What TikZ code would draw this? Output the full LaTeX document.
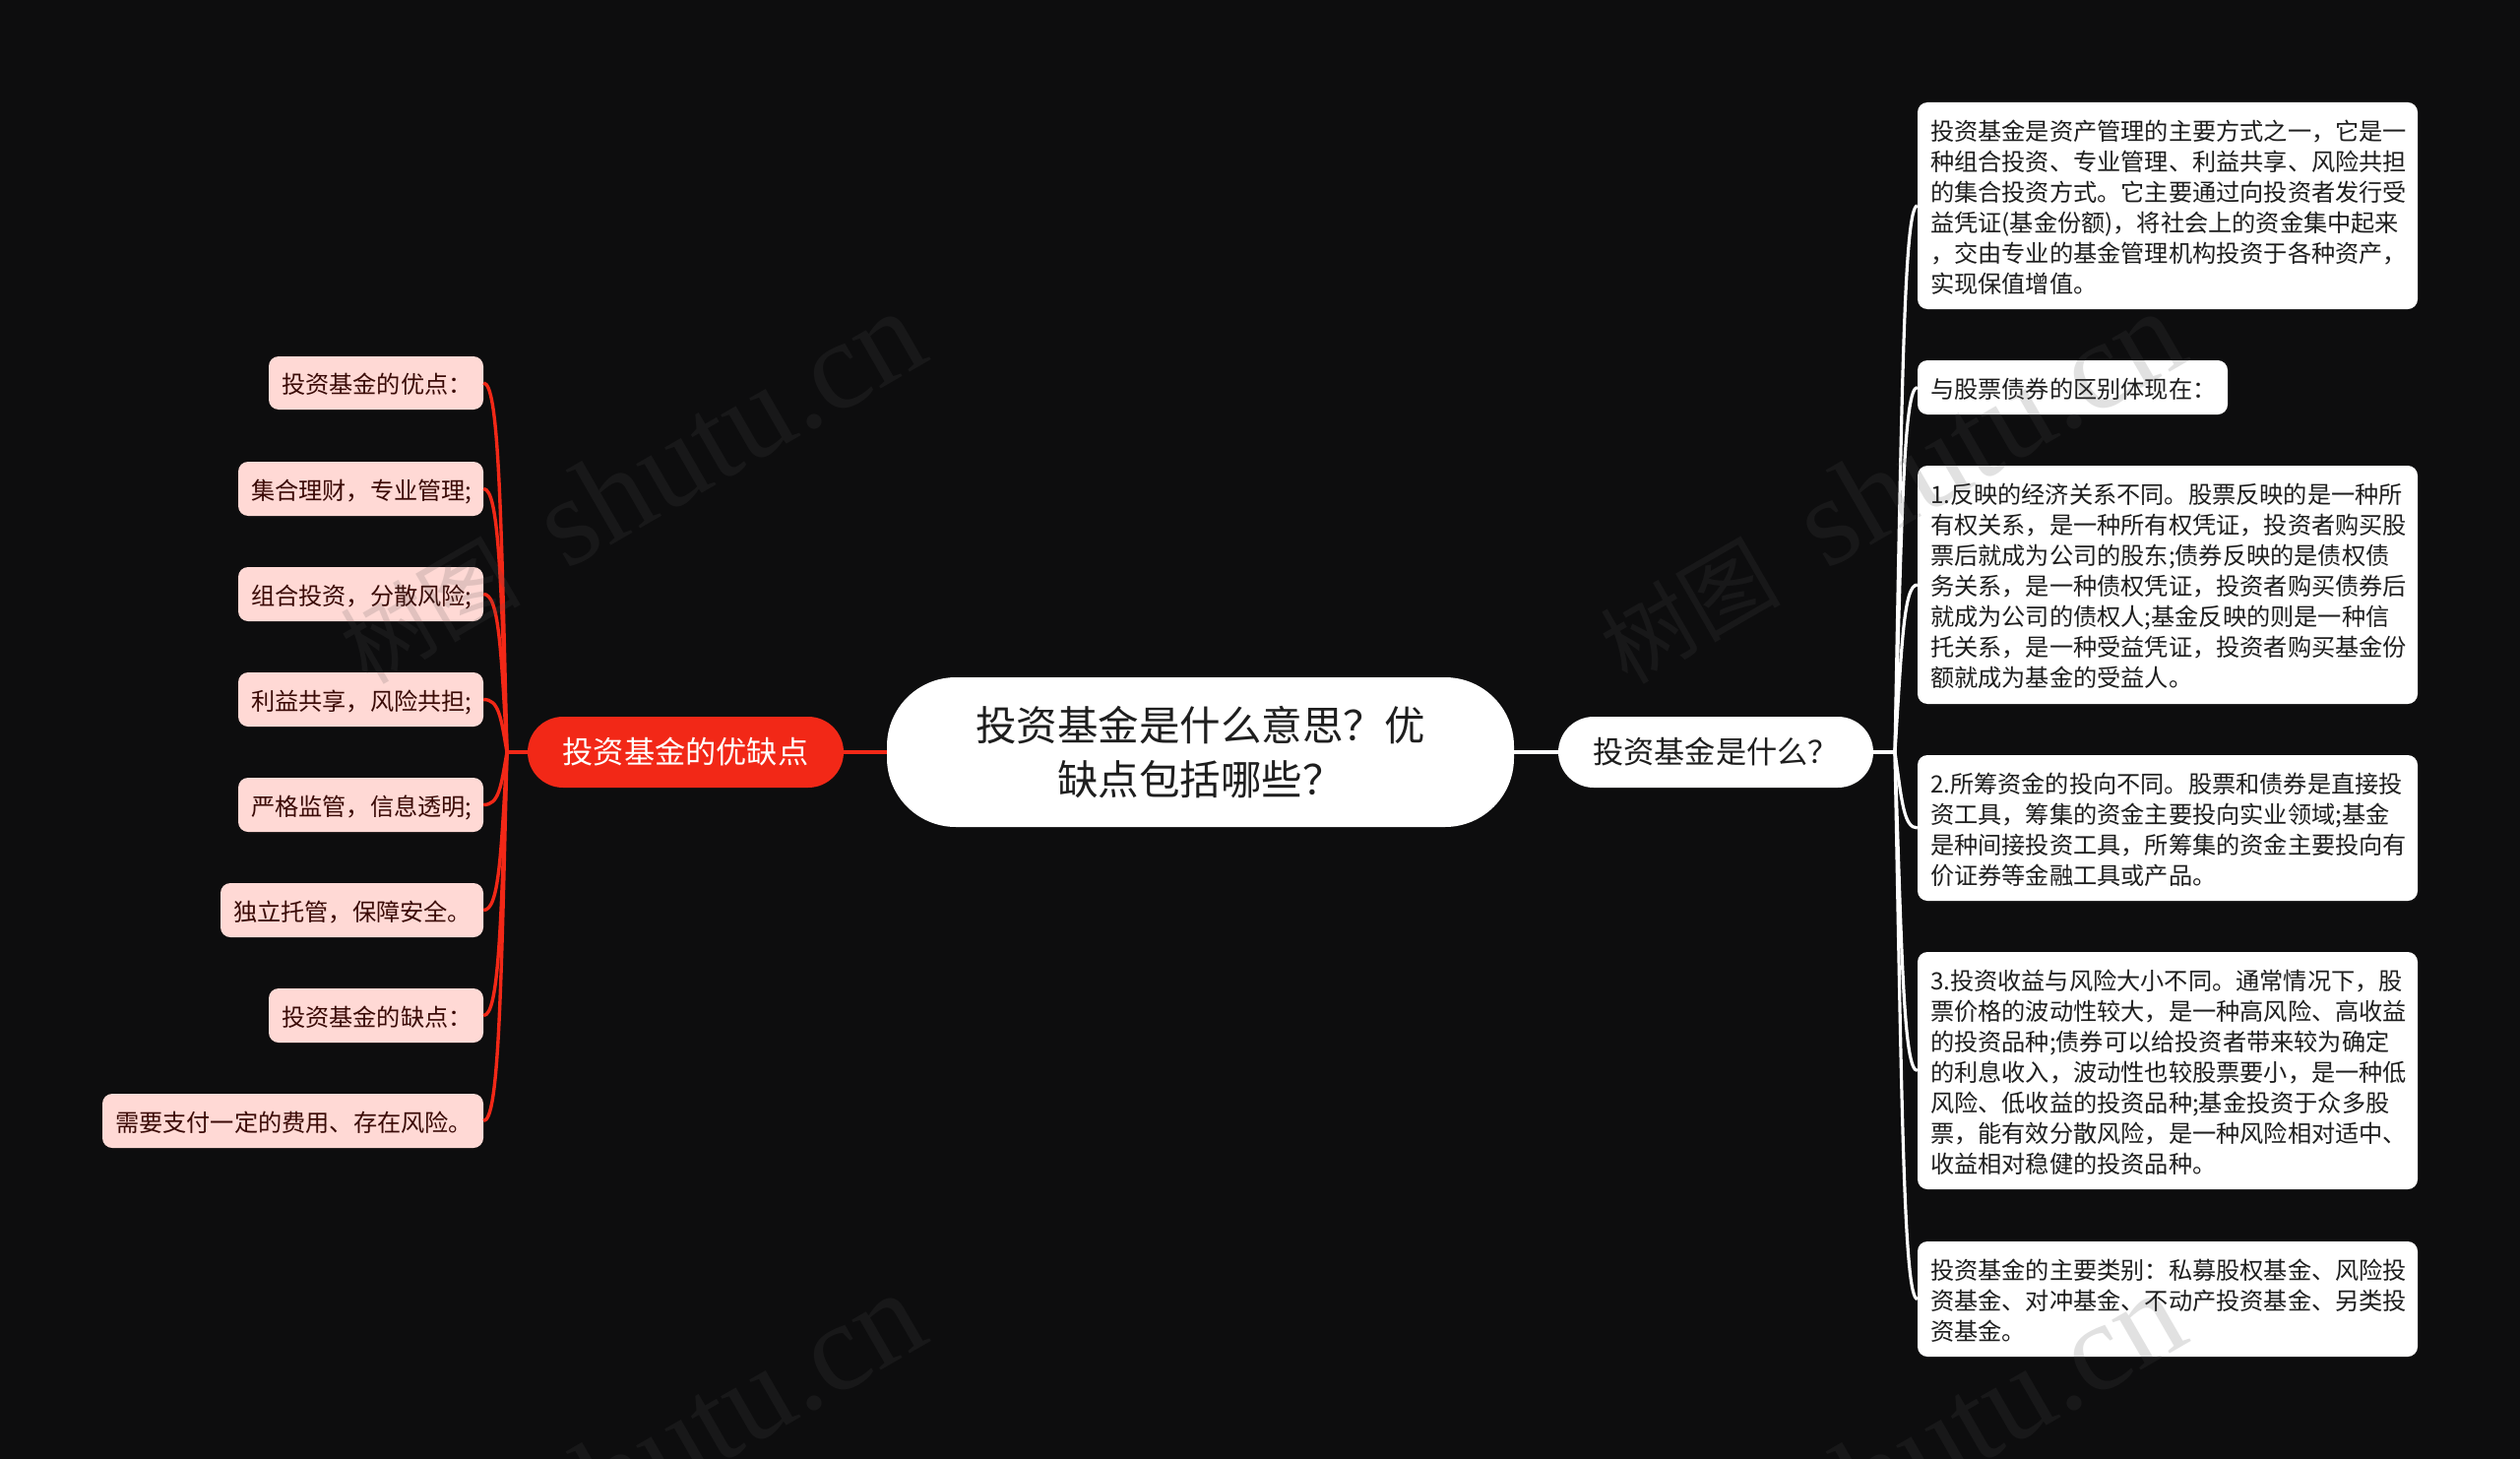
\documentclass[tikz,border=0pt]{standalone}
\usepackage{fontspec}
\setmainfont{Noto Sans CJK SC}
\newfontfamily\wmlatin{Liberation Serif}
\usetikzlibrary{calc}
\definecolor{pagebg}{HTML}{0D0D0E}
\definecolor{brred}{HTML}{F22817}
\definecolor{leafpink}{HTML}{FFD9D5}
\definecolor{leafink}{HTML}{3A0A06}
\definecolor{darkink}{HTML}{1E1E1E}
\definecolor{wmgrey}{HTML}{505050}
\tikzset{
  rootnode/.style={fill=white,text=darkink,rounded corners=70pt,align=center,font=\fontsize{41.5}{55}\selectfont},
  whitemain/.style={fill=white,text=darkink,rounded corners=36pt,align=center,font=\fontsize{31.2}{38}\selectfont},
  redmain/.style={fill=brred,text=white,rounded corners=36pt,align=center,font=\fontsize{31.2}{38}\selectfont},
  whiteleaf/.style={fill=white,text=darkink,rounded corners=10pt,align=left,font=\fontsize{24.2}{31}\selectfont,inner xsep=13pt},
  pinkleaf/.style={fill=leafpink,text=leafink,rounded corners=10pt,align=left,font=\fontsize{24.2}{31}\selectfont,inner xsep=13pt},
  wline/.style={draw=white,line width=3.2pt},
  rline/.style={draw=brred,line width=3.4pt},
  wmark/.style={anchor=base west,rotate=30,text=wmgrey,text opacity=.17,inner sep=0pt,font=\fontsize{92}{112}\selectfont}
}
% name, style, x0, y0, x1, y1, text
\newcommand\boxnode[7]{%
  \pgfmathsetmacro\cxx{(#3+#5)/2}\pgfmathsetmacro\cyy{(#4+#6)/2}%
  \pgfmathsetmacro\www{#5-#3}\pgfmathsetmacro\hhh{#6-#4}%
  \node[#2,inner ysep=0pt,minimum width=\www pt,minimum height=\hhh pt] (#1) at (\cxx,\cyy) {#7};}
\newcommand\leafnode[7]{%
  \pgfmathsetmacro\cxx{(#3+#5)/2}\pgfmathsetmacro\cyy{(#4+#6)/2}%
  \pgfmathsetmacro\www{#5-#3}\pgfmathsetmacro\hhh{#6-#4}\pgfmathsetmacro\ttt{#5-#3-26}%
  \node[#2,inner ysep=0pt,minimum width=\www pt,minimum height=\hhh pt,text width=\ttt pt] (#1) at (\cxx,\cyy) {\rule{0pt}{27pt}#7\rule[-5.6pt]{0pt}{5.6pt}};}
\newcommand\rbranch[1]{\draw[wline] (rs) .. controls ($(rs)!.65!(rs|-#1.west)+(7,0)$) and ($(rs|-#1.west)+(9,0)$) .. (#1.west);}
\newcommand\lbranch[1]{\draw[rline] (ls) .. controls ($(ls)!.65!(ls|-#1.east)+(-6,0)$) and ($(ls|-#1.east)+(-8,0)$) .. (#1.east);}
\newcommand\wmtext{树图\hspace{50pt}{\wmlatin\fontsize{128}{128}\selectfont shutu.cn}}
\begin{document}
\begin{tikzpicture}[x=1pt,y=-1pt]
\useasboundingbox (0,0) rectangle (2560,1482);
\fill[pagebg] (0,0) rectangle (2560,1482);

\boxnode{root}{rootnode}{901}{688}{1538}{840}{投资基金是什么意思？优\\缺点包括哪些？}
\boxnode{qnode}{whitemain}{1583}{728}{1903}{800}{投资基金是什么？}
\boxnode{pnode}{redmain}{536}{728}{857}{800}{投资基金的优缺点}

\leafnode{r1}{whiteleaf}{1948}{104}{2456}{314}{投资基金是资产管理的主要方式之一，它是一\\种组合投资、专业管理、利益共享、风险共担\\的集合投资方式。它主要通过向投资者发行受\\益凭证(基金份额)，将社会上的资金集中起来\\，交由专业的基金管理机构投资于各种资产，\\实现保值增值。}
\leafnode{r2}{whiteleaf}{1948}{366}{2263}{421}{与股票债券的区别体现在：}
\leafnode{r3}{whiteleaf}{1948}{473}{2456}{715}{1.反映的经济关系不同。股票反映的是一种所\\有权关系，是一种所有权凭证，投资者购买股\\票后就成为公司的股东;债券反映的是债权债\\务关系，是一种债权凭证，投资者购买债券后\\就成为公司的债权人;基金反映的则是一种信\\托关系，是一种受益凭证，投资者购买基金份\\额就成为基金的受益人。}
\leafnode{r4}{whiteleaf}{1948}{767}{2456}{915}{2.所筹资金的投向不同。股票和债券是直接投\\资工具，筹集的资金主要投向实业领域;基金\\是种间接投资工具，所筹集的资金主要投向有\\价证券等金融工具或产品。}
\leafnode{r5}{whiteleaf}{1948}{967}{2456}{1208}{3.投资收益与风险大小不同。通常情况下，股\\票价格的波动性较大，是一种高风险、高收益\\的投资品种;债券可以给投资者带来较为确定\\的利息收入，波动性也较股票要小，是一种低\\风险、低收益的投资品种;基金投资于众多股\\票，能有效分散风险，是一种风险相对适中、\\收益相对稳健的投资品种。}
\leafnode{r6}{whiteleaf}{1948}{1261}{2456}{1378}{投资基金的主要类别：私募股权基金、风险投\\资基金、对冲基金、不动产投资基金、另类投\\资基金。}

\leafnode{l1}{pinkleaf}{273}{362}{491}{416}{投资基金的优点：}
\leafnode{l2}{pinkleaf}{242}{469}{491}{524}{集合理财，专业管理;}
\leafnode{l3}{pinkleaf}{242}{576}{491}{631}{组合投资，分散风险;}
\leafnode{l4}{pinkleaf}{242}{683}{491}{738}{利益共享，风险共担;}
\leafnode{l5}{pinkleaf}{242}{790}{491}{845}{严格监管，信息透明;}
\leafnode{l6}{pinkleaf}{224}{897}{491}{952}{独立托管，保障安全。}
\leafnode{l7}{pinkleaf}{273}{1004}{491}{1059}{投资基金的缺点：}
\leafnode{l8}{pinkleaf}{104}{1111}{491}{1166}{需要支付一定的费用、存在风险。}

\coordinate (rs) at (1925,764);
\coordinate (ls) at (515,764);
\draw[wline] (root.east) -- (qnode.west);
\draw[wline] (qnode.east) -- (rs);
\draw[rline] (root.west) -- (pnode.east);
\draw[rline] (pnode.west) -- (ls);
\foreach \n in {r1,r2,r3,r4,r5,r6} {\rbranch{\n}}
\foreach \n in {l1,l2,l3,l4,l5,l6,l7,l8} {\lbranch{\n}}

\begin{scope}
\clip (0,0) rectangle (2560,1482);
\node[wmark] (wm1) at (373,697) {\wmtext};
\node[wmark] (wm2) at (1653,697) {\wmtext};
\node[wmark] (wm3) at (373,1694) {\wmtext};
\node[wmark] (wm4) at (1653,1694) {\wmtext};
\end{scope}
\end{tikzpicture}
\end{document}
